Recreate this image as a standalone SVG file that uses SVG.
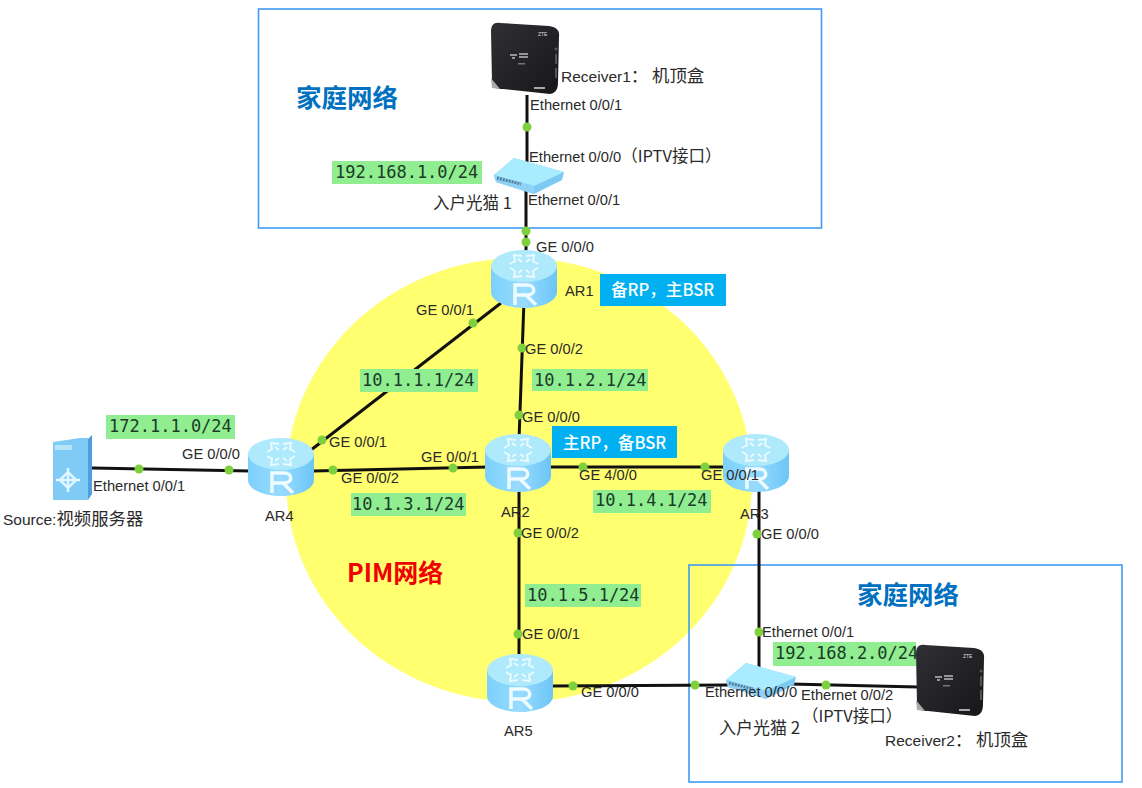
<svg xmlns="http://www.w3.org/2000/svg" width="1142" height="788" viewBox="0 0 1142 788">
<style>
text{font-family:"Liberation Sans","Noto Sans CJK SC",sans-serif;font-size:14.700px;fill:#2a2a2a}
.m{font-family:"DejaVu Sans Mono","Noto Sans CJK SC",monospace;font-size:17px;fill:#1c3a2a}
.g{fill:#90ee90}
.b{fill:#00b0f0}
.w{font-family:"Noto Sans CJK SC",sans-serif;font-size:16.600px;fill:#fff;font-weight:500}
.t{font-family:"Noto Sans CJK SC",sans-serif;font-size:25.500px;font-weight:700;fill:#0070c0}
.c{font-family:"Noto Sans CJK SC",sans-serif;font-size:16.500px}
.n{font-size:15.500px}
.n .c{font-size:17.400px}
.area{fill:none;stroke:#3f9bf5;stroke-width:1.6}
.l{stroke:#111;stroke-width:3;fill:none}
.d{fill:#7ed13c}
</style>
<defs>
<linearGradient id="rg" x1="0" x2="1" y1="0" y2="0"><stop offset="0" stop-color="#7cd0fb"/><stop offset=".5" stop-color="#98dcff"/><stop offset="1" stop-color="#6cc5f6"/></linearGradient>
<linearGradient id="stb" x1="0" x2="1" y1="0" y2="1"><stop offset="0" stop-color="#303034"/><stop offset="1" stop-color="#17171a"/></linearGradient>
<symbol id="router" width="66" height="58" viewBox="0 0 66 58" overflow="visible">
<path d="M0 16V42C0 51 15 58 33 58S66 51 66 42V16Z" fill="url(#rg)"/>
<ellipse cx="33" cy="16" rx="33" ry="16" fill="#aeeafc"/>
<g fill="none" stroke="#eafaff" stroke-width="2">
<path d="M31 6 23 5 24 11 19 14M35 6 43 5 42 11 47 14M31 26 23 27 24 21 19 18M35 26 43 27 42 21 47 18M27 9 31 12M39 9 35 12M27 23 31 20M39 23 35 20"/>
</g>
<path d="M24 55V35H36C45 35 45 45 36 45H24M35 45L45 55" fill="none" stroke="#eefbff" stroke-width="3.500"/>
</symbol>
<symbol id="box" width="70" height="72" viewBox="0 0 70 72" overflow="visible">
<path d="M1 60 0 10C0 3 3 0 9 1L58 4C65 5 69 8 68 15L67 60C67 67 65 71 59 72L12 67C6 67 1 66 1 60Z" fill="url(#stb)"/>
<path d="M0 56 1 66 9 67Z" fill="#aaa"/>
<text x="47" y="14" style="font-size:5px;fill:#ddd">ZTE</text>
<path d="M19 33h7M21 36h3M28 32h9M28 35h9" stroke="#bbb" stroke-width="1.300" fill="none"/>
<rect x="27" y="41" width="7" height="1.500" fill="#777"/>
<rect x="64" y="32" width="2" height="10" fill="#555"/><rect x="64" y="46" width="2" height="10" fill="#555"/><circle cx="65" cy="27" r="1.500" fill="#555"/>
<rect x="43" y="65" width="11" height="2" fill="#aaa"/>
</symbol>
<symbol id="modem" width="70" height="36" viewBox="0 0 70 36" overflow="visible">
<path d="M0 17 20 0 70 14 68 22 40 36 2 24Z" fill="#7cc9f2"/>
<path d="M0 17 20 0 70 14 40 28Z" fill="#a9ecff"/>
<path d="M0 17 40 28V36L2 24Z" fill="#8fd2f5"/>
<path d="M3 20 27 26" stroke="#557fa0" stroke-width="3" stroke-dasharray="2 1"/>
</symbol>
</defs>

<ellipse id="pim-area" cx="519" cy="480" rx="233" ry="222" fill="#ffff70"/>
<rect class="area" x="258.500" y="9" width="563" height="219"/>
<rect class="area" x="689" y="565" width="433" height="217"/>

<g id="connectors">
<path class="l" d="M527 95V170M526 190V252"/>
<path class="l" d="M501 303 311 450"/>
<path class="l" d="M524 300 519 440"/>
<path class="l" d="M92 468 250 471"/>
<path class="l" d="M313 471 488 467"/>
<path class="l" d="M550 467H725"/>
<path class="l" d="M519 490V656"/>
<path class="l" d="M759 490V670"/>
<path class="l" d="M552 686 730 685"/>
<path class="l" d="M790 684 918 687"/>
<g class="d">
<circle cx="527" cy="127" r="4.500"/><circle cx="526" cy="231" r="4.500"/><circle cx="526" cy="242" r="4.500"/>
<circle cx="473" cy="323" r="4.500"/><circle cx="322" cy="440" r="4.500"/>
<circle cx="522" cy="348" r="4.500"/><circle cx="519" cy="415" r="4.500"/>
<circle cx="139" cy="469" r="4.500"/><circle cx="229" cy="470" r="4.500"/>
<circle cx="333" cy="470" r="4.500"/><circle cx="453" cy="468" r="4.500"/>
<circle cx="583" cy="467" r="4.500"/><circle cx="705" cy="467" r="4.500"/>
<circle cx="518" cy="533" r="4.500"/><circle cx="757" cy="534" r="4.500"/>
<circle cx="518" cy="634" r="4.500"/><circle cx="759" cy="632" r="4.500"/>
<circle cx="573" cy="686" r="4.500"/><circle cx="695" cy="685" r="4.500"/><circle cx="826" cy="685" r="4.500"/>
</g>
</g>

<g id="receiver1"><use href="#box" x="491" y="22"/><text class="n" x="561" y="82">Receiver1<tspan class="c">： 机顶盒</tspan></text></g>
<g id="modem1"><use href="#modem" x="494" y="158"/><text x="433" y="209" class="c">入户光猫 1</text></g>
<g id="ar1"><use href="#router" x="491" y="250"/><text x="565" y="296">AR1</text></g>
<g id="ar2"><use href="#router" x="485" y="434"/><text x="501" y="517">AR2</text></g>
<g id="ar3"><use href="#router" x="723" y="434"/><text x="740" y="519">AR3</text></g>
<g id="ar4"><use href="#router" x="248" y="438"/><text x="265" y="521">AR4</text></g>
<g id="ar5"><use href="#router" x="487" y="654"/><text x="504" y="736">AR5</text></g>
<g id="source">
<path d="M53 442 80 438 88 438 88 500 53 500Z" fill="#7fcbf6"/>
<path d="M88 439 92 435V494L88 500Z" fill="#4f9fe0"/>
<rect x="55" y="445" width="17" height="5" fill="#b6e4fb"/>
<path d="M60 480l8-8 8 8-8 8ZM68 468v24M56 480h24" fill="none" stroke="#e2f6ff" stroke-width="2.500"/>
<text class="n" x="3" y="525">Source:<tspan class="c">视频服务器</tspan></text>
</g>
<g id="modem2"><use href="#modem" x="726" y="663"/><text x="719" y="734" class="c" style="font-size:17px">入户光猫 2</text></g>
<g id="receiver2"><use href="#box" x="916" y="644"/><text class="n" x="885" y="746">Receiver2<tspan class="c">： 机顶盒</tspan></text></g>

<g id="labels">
<text class="t" x="296" y="107">家庭网络</text>
<text class="t" x="857" y="604">家庭网络</text>
<text x="347" y="582" style="font-family:'Noto Sans CJK SC',sans-serif;font-size:25px;font-weight:700;fill:#f00000">PIM网络</text>

<rect class="g" x="332" y="161" width="150" height="23"/><text class="m" x="335" y="178">192.168.1.0/24</text>
<rect class="g" x="106" y="415" width="129" height="24"/><text class="m" x="109" y="432">172.1.1.0/24</text>
<rect class="g" x="360" y="369" width="118" height="23"/><text class="m" x="362" y="386">10.1.1.1/24</text>
<rect class="g" x="532" y="369" width="116" height="22"/><text class="m" x="534" y="386">10.1.2.1/24</text>
<rect class="g" x="351" y="493" width="115" height="23"/><text class="m" x="352" y="510">10.1.3.1/24</text>
<rect class="g" x="593" y="490" width="118" height="23"/><text class="m" x="595" y="506">10.1.4.1/24</text>
<rect class="g" x="525" y="584" width="116" height="23"/><text class="m" x="527" y="601">10.1.5.1/24</text>
<rect class="g" x="773" y="642" width="143" height="24"/><text class="m" x="775" y="659">192.168.2.0/24</text>

<rect class="b" x="600" y="274" width="126" height="32"/><text class="w" x="611" y="296">备RP，主BSR</text>
<rect class="b" x="552" y="426" width="125" height="32"/><text class="w" x="563" y="449">主RP，备BSR</text>

<text x="530" y="110">Ethernet 0/0/1</text>
<text x="529" y="162">Ethernet 0/0/0<tspan class="c">（IPTV接口）</tspan></text>
<text x="528" y="205">Ethernet 0/0/1</text>
<text x="536" y="252">GE 0/0/0</text>
<text x="416" y="315">GE 0/0/1</text>
<text x="525" y="354">GE 0/0/2</text>
<text x="522" y="422">GE 0/0/0</text>
<text x="329" y="447">GE 0/0/1</text>
<text x="182" y="459">GE 0/0/0</text>
<text x="93" y="491">Ethernet 0/0/1</text>
<text x="421" y="462">GE 0/0/1</text>
<text x="341" y="483">GE 0/0/2</text>
<text x="579" y="480">GE 4/0/0</text>
<text x="701" y="480">GE 0/0/1</text>
<text x="521" y="538">GE 0/0/2</text>
<text x="761" y="539">GE 0/0/0</text>
<text x="522" y="639">GE 0/0/1</text>
<text x="762" y="637">Ethernet 0/0/1</text>
<text x="581" y="697">GE 0/0/0</text>
<text x="705" y="697">Ethernet 0/0/0</text>
<text x="801" y="700">Ethernet 0/0/2</text>
<text x="802" y="722" class="c">（IPTV接口）</text>
</g>
</svg>
